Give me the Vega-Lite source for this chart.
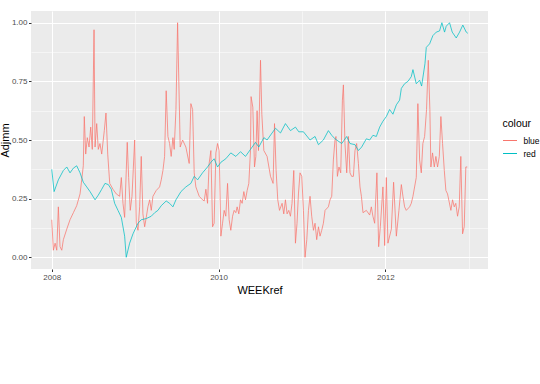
{
  "$schema": "https://vega.github.io/schema/vega-lite/v6.json",
  "autosize": {"type": "none"},
  "padding": {"left": 31, "top": 11, "right": 52, "bottom": 115},
  "width": 457,
  "height": 258,
  "background": "#FFFFFF",
  "config": {
    "view": {"fill": "#EBEBEB", "stroke": null},
    "font": "Liberation Sans",
    "axis": {
      "domain": false,
      "grid": true,
      "gridColor": "#FFFFFF",
      "tickColor": "#333333",
      "tickSize": 2.5,
      "labelColor": "#4D4D4D",
      "labelFontSize": 8,
      "labelOverlap": false,
      "labelFlush": false,
      "labelBound": false,
      "titleColor": "#000000",
      "titleFontSize": 11,
      "titleFontWeight": "normal"
    }
  },
  "data": {
    "values": [
      {"WEEKref":2008.000,"Adjmm":0.16,"colour":"blue"},
      {"WEEKref":2008.019,"Adjmm":0.03,"colour":"blue"},
      {"WEEKref":2008.040,"Adjmm":0.06,"colour":"blue"},
      {"WEEKref":2008.060,"Adjmm":0.03,"colour":"blue"},
      {"WEEKref":2008.079,"Adjmm":0.215,"colour":"blue"},
      {"WEEKref":2008.099,"Adjmm":0.045,"colour":"blue"},
      {"WEEKref":2008.120,"Adjmm":0.03,"colour":"blue"},
      {"WEEKref":2008.139,"Adjmm":0.075,"colour":"blue"},
      {"WEEKref":2008.180,"Adjmm":0.12,"colour":"blue"},
      {"WEEKref":2008.219,"Adjmm":0.16,"colour":"blue"},
      {"WEEKref":2008.259,"Adjmm":0.19,"colour":"blue"},
      {"WEEKref":2008.299,"Adjmm":0.22,"colour":"blue"},
      {"WEEKref":2008.339,"Adjmm":0.27,"colour":"blue"},
      {"WEEKref":2008.359,"Adjmm":0.33,"colour":"blue"},
      {"WEEKref":2008.378,"Adjmm":0.39,"colour":"blue"},
      {"WEEKref":2008.390,"Adjmm":0.60,"colour":"blue"},
      {"WEEKref":2008.407,"Adjmm":0.44,"colour":"blue"},
      {"WEEKref":2008.426,"Adjmm":0.51,"colour":"blue"},
      {"WEEKref":2008.447,"Adjmm":0.47,"colour":"blue"},
      {"WEEKref":2008.467,"Adjmm":0.555,"colour":"blue"},
      {"WEEKref":2008.486,"Adjmm":0.46,"colour":"blue"},
      {"WEEKref":2008.507,"Adjmm":0.97,"colour":"blue"},
      {"WEEKref":2008.519,"Adjmm":0.47,"colour":"blue"},
      {"WEEKref":2008.539,"Adjmm":0.57,"colour":"blue"},
      {"WEEKref":2008.558,"Adjmm":0.46,"colour":"blue"},
      {"WEEKref":2008.578,"Adjmm":0.485,"colour":"blue"},
      {"WEEKref":2008.599,"Adjmm":0.44,"colour":"blue"},
      {"WEEKref":2008.630,"Adjmm":0.54,"colour":"blue"},
      {"WEEKref":2008.650,"Adjmm":0.615,"colour":"blue"},
      {"WEEKref":2008.671,"Adjmm":0.44,"colour":"blue"},
      {"WEEKref":2008.695,"Adjmm":0.315,"colour":"blue"},
      {"WEEKref":2008.734,"Adjmm":0.29,"colour":"blue"},
      {"WEEKref":2008.774,"Adjmm":0.27,"colour":"blue"},
      {"WEEKref":2008.814,"Adjmm":0.26,"colour":"blue"},
      {"WEEKref":2008.834,"Adjmm":0.34,"colour":"blue"},
      {"WEEKref":2008.854,"Adjmm":0.23,"colour":"blue"},
      {"WEEKref":2008.874,"Adjmm":0.17,"colour":"blue"},
      {"WEEKref":2008.905,"Adjmm":0.49,"colour":"blue"},
      {"WEEKref":2008.922,"Adjmm":0.34,"colour":"blue"},
      {"WEEKref":2008.941,"Adjmm":0.20,"colour":"blue"},
      {"WEEKref":2008.962,"Adjmm":0.26,"colour":"blue"},
      {"WEEKref":2008.994,"Adjmm":0.50,"colour":"blue"},
      {"WEEKref":2009.013,"Adjmm":0.145,"colour":"blue"},
      {"WEEKref":2009.034,"Adjmm":0.115,"colour":"blue"},
      {"WEEKref":2009.054,"Adjmm":0.215,"colour":"blue"},
      {"WEEKref":2009.073,"Adjmm":0.43,"colour":"blue"},
      {"WEEKref":2009.093,"Adjmm":0.185,"colour":"blue"},
      {"WEEKref":2009.114,"Adjmm":0.13,"colour":"blue"},
      {"WEEKref":2009.133,"Adjmm":0.17,"colour":"blue"},
      {"WEEKref":2009.153,"Adjmm":0.215,"colour":"blue"},
      {"WEEKref":2009.174,"Adjmm":0.245,"colour":"blue"},
      {"WEEKref":2009.193,"Adjmm":0.20,"colour":"blue"},
      {"WEEKref":2009.213,"Adjmm":0.26,"colour":"blue"},
      {"WEEKref":2009.253,"Adjmm":0.285,"colour":"blue"},
      {"WEEKref":2009.293,"Adjmm":0.30,"colour":"blue"},
      {"WEEKref":2009.313,"Adjmm":0.33,"colour":"blue"},
      {"WEEKref":2009.333,"Adjmm":0.37,"colour":"blue"},
      {"WEEKref":2009.353,"Adjmm":0.43,"colour":"blue"},
      {"WEEKref":2009.372,"Adjmm":0.71,"colour":"blue"},
      {"WEEKref":2009.393,"Adjmm":0.515,"colour":"blue"},
      {"WEEKref":2009.413,"Adjmm":0.485,"colour":"blue"},
      {"WEEKref":2009.432,"Adjmm":0.43,"colour":"blue"},
      {"WEEKref":2009.453,"Adjmm":0.51,"colour":"blue"},
      {"WEEKref":2009.468,"Adjmm":0.46,"colour":"blue"},
      {"WEEKref":2009.489,"Adjmm":0.63,"colour":"blue"},
      {"WEEKref":2009.509,"Adjmm":1.0,"colour":"blue"},
      {"WEEKref":2009.516,"Adjmm":0.88,"colour":"blue"},
      {"WEEKref":2009.540,"Adjmm":0.47,"colour":"blue"},
      {"WEEKref":2009.569,"Adjmm":0.50,"colour":"blue"},
      {"WEEKref":2009.608,"Adjmm":0.47,"colour":"blue"},
      {"WEEKref":2009.648,"Adjmm":0.40,"colour":"blue"},
      {"WEEKref":2009.668,"Adjmm":0.655,"colour":"blue"},
      {"WEEKref":2009.689,"Adjmm":0.63,"colour":"blue"},
      {"WEEKref":2009.708,"Adjmm":0.36,"colour":"blue"},
      {"WEEKref":2009.728,"Adjmm":0.30,"colour":"blue"},
      {"WEEKref":2009.768,"Adjmm":0.26,"colour":"blue"},
      {"WEEKref":2009.808,"Adjmm":0.245,"colour":"blue"},
      {"WEEKref":2009.828,"Adjmm":0.24,"colour":"blue"},
      {"WEEKref":2009.848,"Adjmm":0.29,"colour":"blue"},
      {"WEEKref":2009.868,"Adjmm":0.23,"colour":"blue"},
      {"WEEKref":2009.887,"Adjmm":0.40,"colour":"blue"},
      {"WEEKref":2009.908,"Adjmm":0.455,"colour":"blue"},
      {"WEEKref":2009.928,"Adjmm":0.13,"colour":"blue"},
      {"WEEKref":2009.947,"Adjmm":0.145,"colour":"blue"},
      {"WEEKref":2009.968,"Adjmm":0.445,"colour":"blue"},
      {"WEEKref":2009.988,"Adjmm":0.485,"colour":"blue"},
      {"WEEKref":2010.007,"Adjmm":0.455,"colour":"blue"},
      {"WEEKref":2010.028,"Adjmm":0.09,"colour":"blue"},
      {"WEEKref":2010.048,"Adjmm":0.145,"colour":"blue"},
      {"WEEKref":2010.067,"Adjmm":0.20,"colour":"blue"},
      {"WEEKref":2010.087,"Adjmm":0.175,"colour":"blue"},
      {"WEEKref":2010.108,"Adjmm":0.315,"colour":"blue"},
      {"WEEKref":2010.127,"Adjmm":0.16,"colour":"blue"},
      {"WEEKref":2010.147,"Adjmm":0.115,"colour":"blue"},
      {"WEEKref":2010.168,"Adjmm":0.175,"colour":"blue"},
      {"WEEKref":2010.187,"Adjmm":0.20,"colour":"blue"},
      {"WEEKref":2010.207,"Adjmm":0.19,"colour":"blue"},
      {"WEEKref":2010.223,"Adjmm":0.215,"colour":"blue"},
      {"WEEKref":2010.243,"Adjmm":0.185,"colour":"blue"},
      {"WEEKref":2010.263,"Adjmm":0.245,"colour":"blue"},
      {"WEEKref":2010.283,"Adjmm":0.23,"colour":"blue"},
      {"WEEKref":2010.303,"Adjmm":0.28,"colour":"blue"},
      {"WEEKref":2010.323,"Adjmm":0.245,"colour":"blue"},
      {"WEEKref":2010.343,"Adjmm":0.285,"colour":"blue"},
      {"WEEKref":2010.363,"Adjmm":0.315,"colour":"blue"},
      {"WEEKref":2010.383,"Adjmm":0.455,"colour":"blue"},
      {"WEEKref":2010.390,"Adjmm":0.685,"colour":"blue"},
      {"WEEKref":2010.411,"Adjmm":0.64,"colour":"blue"},
      {"WEEKref":2010.431,"Adjmm":0.385,"colour":"blue"},
      {"WEEKref":2010.447,"Adjmm":0.43,"colour":"blue"},
      {"WEEKref":2010.462,"Adjmm":0.625,"colour":"blue"},
      {"WEEKref":2010.479,"Adjmm":0.455,"colour":"blue"},
      {"WEEKref":2010.503,"Adjmm":0.84,"colour":"blue"},
      {"WEEKref":2010.519,"Adjmm":0.61,"colour":"blue"},
      {"WEEKref":2010.543,"Adjmm":0.455,"colour":"blue"},
      {"WEEKref":2010.582,"Adjmm":0.43,"colour":"blue"},
      {"WEEKref":2010.623,"Adjmm":0.345,"colour":"blue"},
      {"WEEKref":2010.654,"Adjmm":0.315,"colour":"blue"},
      {"WEEKref":2010.671,"Adjmm":0.57,"colour":"blue"},
      {"WEEKref":2010.690,"Adjmm":0.37,"colour":"blue"},
      {"WEEKref":2010.710,"Adjmm":0.245,"colour":"blue"},
      {"WEEKref":2010.731,"Adjmm":0.20,"colour":"blue"},
      {"WEEKref":2010.762,"Adjmm":0.23,"colour":"blue"},
      {"WEEKref":2010.782,"Adjmm":0.185,"colour":"blue"},
      {"WEEKref":2010.802,"Adjmm":0.245,"colour":"blue"},
      {"WEEKref":2010.822,"Adjmm":0.185,"colour":"blue"},
      {"WEEKref":2010.842,"Adjmm":0.20,"colour":"blue"},
      {"WEEKref":2010.862,"Adjmm":0.175,"colour":"blue"},
      {"WEEKref":2010.881,"Adjmm":0.23,"colour":"blue"},
      {"WEEKref":2010.902,"Adjmm":0.37,"colour":"blue"},
      {"WEEKref":2010.922,"Adjmm":0.06,"colour":"blue"},
      {"WEEKref":2010.941,"Adjmm":0.145,"colour":"blue"},
      {"WEEKref":2010.958,"Adjmm":0.27,"colour":"blue"},
      {"WEEKref":2010.977,"Adjmm":0.36,"colour":"blue"},
      {"WEEKref":2010.998,"Adjmm":0.345,"colour":"blue"},
      {"WEEKref":2011.018,"Adjmm":0.20,"colour":"blue"},
      {"WEEKref":2011.037,"Adjmm":0.0,"colour":"blue"},
      {"WEEKref":2011.058,"Adjmm":0.075,"colour":"blue"},
      {"WEEKref":2011.078,"Adjmm":0.20,"colour":"blue"},
      {"WEEKref":2011.097,"Adjmm":0.26,"colour":"blue"},
      {"WEEKref":2011.117,"Adjmm":0.175,"colour":"blue"},
      {"WEEKref":2011.138,"Adjmm":0.115,"colour":"blue"},
      {"WEEKref":2011.157,"Adjmm":0.145,"colour":"blue"},
      {"WEEKref":2011.177,"Adjmm":0.075,"colour":"blue"},
      {"WEEKref":2011.198,"Adjmm":0.13,"colour":"blue"},
      {"WEEKref":2011.217,"Adjmm":0.09,"colour":"blue"},
      {"WEEKref":2011.237,"Adjmm":0.115,"colour":"blue"},
      {"WEEKref":2011.257,"Adjmm":0.145,"colour":"blue"},
      {"WEEKref":2011.277,"Adjmm":0.20,"colour":"blue"},
      {"WEEKref":2011.317,"Adjmm":0.215,"colour":"blue"},
      {"WEEKref":2011.337,"Adjmm":0.245,"colour":"blue"},
      {"WEEKref":2011.357,"Adjmm":0.26,"colour":"blue"},
      {"WEEKref":2011.377,"Adjmm":0.415,"colour":"blue"},
      {"WEEKref":2011.396,"Adjmm":0.50,"colour":"blue"},
      {"WEEKref":2011.408,"Adjmm":0.515,"colour":"blue"},
      {"WEEKref":2011.425,"Adjmm":0.345,"colour":"blue"},
      {"WEEKref":2011.444,"Adjmm":0.385,"colour":"blue"},
      {"WEEKref":2011.465,"Adjmm":0.36,"colour":"blue"},
      {"WEEKref":2011.485,"Adjmm":0.67,"colour":"blue"},
      {"WEEKref":2011.497,"Adjmm":0.735,"colour":"blue"},
      {"WEEKref":2011.516,"Adjmm":0.485,"colour":"blue"},
      {"WEEKref":2011.537,"Adjmm":0.36,"colour":"blue"},
      {"WEEKref":2011.557,"Adjmm":0.515,"colour":"blue"},
      {"WEEKref":2011.576,"Adjmm":0.36,"colour":"blue"},
      {"WEEKref":2011.596,"Adjmm":0.345,"colour":"blue"},
      {"WEEKref":2011.617,"Adjmm":0.345,"colour":"blue"},
      {"WEEKref":2011.636,"Adjmm":0.455,"colour":"blue"},
      {"WEEKref":2011.656,"Adjmm":0.485,"colour":"blue"},
      {"WEEKref":2011.677,"Adjmm":0.40,"colour":"blue"},
      {"WEEKref":2011.696,"Adjmm":0.30,"colour":"blue"},
      {"WEEKref":2011.713,"Adjmm":0.26,"colour":"blue"},
      {"WEEKref":2011.732,"Adjmm":0.19,"colour":"blue"},
      {"WEEKref":2011.772,"Adjmm":0.20,"colour":"blue"},
      {"WEEKref":2011.812,"Adjmm":0.18,"colour":"blue"},
      {"WEEKref":2011.832,"Adjmm":0.215,"colour":"blue"},
      {"WEEKref":2011.851,"Adjmm":0.175,"colour":"blue"},
      {"WEEKref":2011.872,"Adjmm":0.145,"colour":"blue"},
      {"WEEKref":2011.899,"Adjmm":0.36,"colour":"blue"},
      {"WEEKref":2011.920,"Adjmm":0.045,"colour":"blue"},
      {"WEEKref":2011.940,"Adjmm":0.13,"colour":"blue"},
      {"WEEKref":2011.971,"Adjmm":0.30,"colour":"blue"},
      {"WEEKref":2011.992,"Adjmm":0.05,"colour":"blue"},
      {"WEEKref":2012.012,"Adjmm":0.34,"colour":"blue"},
      {"WEEKref":2012.031,"Adjmm":0.06,"colour":"blue"},
      {"WEEKref":2012.072,"Adjmm":0.12,"colour":"blue"},
      {"WEEKref":2012.099,"Adjmm":0.32,"colour":"blue"},
      {"WEEKref":2012.132,"Adjmm":0.09,"colour":"blue"},
      {"WEEKref":2012.163,"Adjmm":0.20,"colour":"blue"},
      {"WEEKref":2012.192,"Adjmm":0.31,"colour":"blue"},
      {"WEEKref":2012.211,"Adjmm":0.26,"colour":"blue"},
      {"WEEKref":2012.231,"Adjmm":0.215,"colour":"blue"},
      {"WEEKref":2012.251,"Adjmm":0.20,"colour":"blue"},
      {"WEEKref":2012.291,"Adjmm":0.215,"colour":"blue"},
      {"WEEKref":2012.311,"Adjmm":0.23,"colour":"blue"},
      {"WEEKref":2012.331,"Adjmm":0.26,"colour":"blue"},
      {"WEEKref":2012.371,"Adjmm":0.34,"colour":"blue"},
      {"WEEKref":2012.390,"Adjmm":0.655,"colour":"blue"},
      {"WEEKref":2012.411,"Adjmm":0.415,"colour":"blue"},
      {"WEEKref":2012.431,"Adjmm":0.36,"colour":"blue"},
      {"WEEKref":2012.450,"Adjmm":0.485,"colour":"blue"},
      {"WEEKref":2012.471,"Adjmm":0.515,"colour":"blue"},
      {"WEEKref":2012.494,"Adjmm":0.63,"colour":"blue"},
      {"WEEKref":2012.515,"Adjmm":0.84,"colour":"blue"},
      {"WEEKref":2012.534,"Adjmm":0.63,"colour":"blue"},
      {"WEEKref":2012.546,"Adjmm":0.385,"colour":"blue"},
      {"WEEKref":2012.566,"Adjmm":0.445,"colour":"blue"},
      {"WEEKref":2012.587,"Adjmm":0.385,"colour":"blue"},
      {"WEEKref":2012.606,"Adjmm":0.43,"colour":"blue"},
      {"WEEKref":2012.626,"Adjmm":0.385,"colour":"blue"},
      {"WEEKref":2012.647,"Adjmm":0.43,"colour":"blue"},
      {"WEEKref":2012.666,"Adjmm":0.60,"colour":"blue"},
      {"WEEKref":2012.686,"Adjmm":0.485,"colour":"blue"},
      {"WEEKref":2012.707,"Adjmm":0.37,"colour":"blue"},
      {"WEEKref":2012.726,"Adjmm":0.285,"colour":"blue"},
      {"WEEKref":2012.746,"Adjmm":0.27,"colour":"blue"},
      {"WEEKref":2012.786,"Adjmm":0.20,"colour":"blue"},
      {"WEEKref":2012.806,"Adjmm":0.245,"colour":"blue"},
      {"WEEKref":2012.826,"Adjmm":0.215,"colour":"blue"},
      {"WEEKref":2012.845,"Adjmm":0.23,"colour":"blue"},
      {"WEEKref":2012.866,"Adjmm":0.175,"colour":"blue"},
      {"WEEKref":2012.886,"Adjmm":0.215,"colour":"blue"},
      {"WEEKref":2012.905,"Adjmm":0.43,"colour":"blue"},
      {"WEEKref":2012.926,"Adjmm":0.10,"colour":"blue"},
      {"WEEKref":2012.946,"Adjmm":0.13,"colour":"blue"},
      {"WEEKref":2012.965,"Adjmm":0.385,"colour":"blue"},
      {"WEEKref":2012.982,"Adjmm":0.385,"colour":"blue"},
      {"WEEKref":2008.000,"Adjmm":0.375,"colour":"red"},
      {"WEEKref":2008.028,"Adjmm":0.28,"colour":"red"},
      {"WEEKref":2008.079,"Adjmm":0.33,"colour":"red"},
      {"WEEKref":2008.139,"Adjmm":0.37,"colour":"red"},
      {"WEEKref":2008.180,"Adjmm":0.385,"colour":"red"},
      {"WEEKref":2008.219,"Adjmm":0.36,"colour":"red"},
      {"WEEKref":2008.259,"Adjmm":0.38,"colour":"red"},
      {"WEEKref":2008.299,"Adjmm":0.39,"colour":"red"},
      {"WEEKref":2008.339,"Adjmm":0.36,"colour":"red"},
      {"WEEKref":2008.378,"Adjmm":0.32,"colour":"red"},
      {"WEEKref":2008.419,"Adjmm":0.30,"colour":"red"},
      {"WEEKref":2008.459,"Adjmm":0.28,"colour":"red"},
      {"WEEKref":2008.519,"Adjmm":0.245,"colour":"red"},
      {"WEEKref":2008.558,"Adjmm":0.265,"colour":"red"},
      {"WEEKref":2008.599,"Adjmm":0.29,"colour":"red"},
      {"WEEKref":2008.638,"Adjmm":0.315,"colour":"red"},
      {"WEEKref":2008.678,"Adjmm":0.31,"colour":"red"},
      {"WEEKref":2008.714,"Adjmm":0.29,"colour":"red"},
      {"WEEKref":2008.754,"Adjmm":0.23,"colour":"red"},
      {"WEEKref":2008.794,"Adjmm":0.20,"colour":"red"},
      {"WEEKref":2008.834,"Adjmm":0.17,"colour":"red"},
      {"WEEKref":2008.874,"Adjmm":0.09,"colour":"red"},
      {"WEEKref":2008.893,"Adjmm":0.0,"colour":"red"},
      {"WEEKref":2008.934,"Adjmm":0.06,"colour":"red"},
      {"WEEKref":2008.974,"Adjmm":0.10,"colour":"red"},
      {"WEEKref":2009.034,"Adjmm":0.145,"colour":"red"},
      {"WEEKref":2009.073,"Adjmm":0.16,"colour":"red"},
      {"WEEKref":2009.133,"Adjmm":0.165,"colour":"red"},
      {"WEEKref":2009.193,"Adjmm":0.175,"colour":"red"},
      {"WEEKref":2009.234,"Adjmm":0.19,"colour":"red"},
      {"WEEKref":2009.273,"Adjmm":0.20,"colour":"red"},
      {"WEEKref":2009.313,"Adjmm":0.22,"colour":"red"},
      {"WEEKref":2009.372,"Adjmm":0.24,"colour":"red"},
      {"WEEKref":2009.413,"Adjmm":0.23,"colour":"red"},
      {"WEEKref":2009.453,"Adjmm":0.215,"colour":"red"},
      {"WEEKref":2009.489,"Adjmm":0.245,"colour":"red"},
      {"WEEKref":2009.549,"Adjmm":0.28,"colour":"red"},
      {"WEEKref":2009.608,"Adjmm":0.30,"colour":"red"},
      {"WEEKref":2009.668,"Adjmm":0.315,"colour":"red"},
      {"WEEKref":2009.708,"Adjmm":0.345,"colour":"red"},
      {"WEEKref":2009.749,"Adjmm":0.33,"colour":"red"},
      {"WEEKref":2009.808,"Adjmm":0.36,"colour":"red"},
      {"WEEKref":2009.868,"Adjmm":0.385,"colour":"red"},
      {"WEEKref":2009.908,"Adjmm":0.405,"colour":"red"},
      {"WEEKref":2009.947,"Adjmm":0.42,"colour":"red"},
      {"WEEKref":2009.988,"Adjmm":0.385,"colour":"red"},
      {"WEEKref":2010.028,"Adjmm":0.405,"colour":"red"},
      {"WEEKref":2010.087,"Adjmm":0.42,"colour":"red"},
      {"WEEKref":2010.147,"Adjmm":0.445,"colour":"red"},
      {"WEEKref":2010.207,"Adjmm":0.43,"colour":"red"},
      {"WEEKref":2010.263,"Adjmm":0.45,"colour":"red"},
      {"WEEKref":2010.323,"Adjmm":0.43,"colour":"red"},
      {"WEEKref":2010.383,"Adjmm":0.46,"colour":"red"},
      {"WEEKref":2010.443,"Adjmm":0.49,"colour":"red"},
      {"WEEKref":2010.483,"Adjmm":0.47,"colour":"red"},
      {"WEEKref":2010.543,"Adjmm":0.51,"colour":"red"},
      {"WEEKref":2010.582,"Adjmm":0.50,"colour":"red"},
      {"WEEKref":2010.642,"Adjmm":0.53,"colour":"red"},
      {"WEEKref":2010.683,"Adjmm":0.55,"colour":"red"},
      {"WEEKref":2010.743,"Adjmm":0.53,"colour":"red"},
      {"WEEKref":2010.802,"Adjmm":0.57,"colour":"red"},
      {"WEEKref":2010.862,"Adjmm":0.54,"colour":"red"},
      {"WEEKref":2010.922,"Adjmm":0.555,"colour":"red"},
      {"WEEKref":2010.962,"Adjmm":0.535,"colour":"red"},
      {"WEEKref":2011.018,"Adjmm":0.535,"colour":"red"},
      {"WEEKref":2011.097,"Adjmm":0.50,"colour":"red"},
      {"WEEKref":2011.157,"Adjmm":0.515,"colour":"red"},
      {"WEEKref":2011.198,"Adjmm":0.48,"colour":"red"},
      {"WEEKref":2011.257,"Adjmm":0.50,"colour":"red"},
      {"WEEKref":2011.317,"Adjmm":0.54,"colour":"red"},
      {"WEEKref":2011.357,"Adjmm":0.52,"colour":"red"},
      {"WEEKref":2011.396,"Adjmm":0.505,"colour":"red"},
      {"WEEKref":2011.477,"Adjmm":0.485,"colour":"red"},
      {"WEEKref":2011.537,"Adjmm":0.515,"colour":"red"},
      {"WEEKref":2011.576,"Adjmm":0.485,"colour":"red"},
      {"WEEKref":2011.636,"Adjmm":0.48,"colour":"red"},
      {"WEEKref":2011.677,"Adjmm":0.455,"colour":"red"},
      {"WEEKref":2011.716,"Adjmm":0.47,"colour":"red"},
      {"WEEKref":2011.772,"Adjmm":0.505,"colour":"red"},
      {"WEEKref":2011.812,"Adjmm":0.50,"colour":"red"},
      {"WEEKref":2011.851,"Adjmm":0.52,"colour":"red"},
      {"WEEKref":2011.892,"Adjmm":0.515,"colour":"red"},
      {"WEEKref":2011.932,"Adjmm":0.555,"colour":"red"},
      {"WEEKref":2011.971,"Adjmm":0.58,"colour":"red"},
      {"WEEKref":2012.012,"Adjmm":0.60,"colour":"red"},
      {"WEEKref":2012.051,"Adjmm":0.63,"colour":"red"},
      {"WEEKref":2012.091,"Adjmm":0.61,"colour":"red"},
      {"WEEKref":2012.132,"Adjmm":0.65,"colour":"red"},
      {"WEEKref":2012.171,"Adjmm":0.67,"colour":"red"},
      {"WEEKref":2012.192,"Adjmm":0.72,"colour":"red"},
      {"WEEKref":2012.231,"Adjmm":0.74,"colour":"red"},
      {"WEEKref":2012.271,"Adjmm":0.75,"colour":"red"},
      {"WEEKref":2012.311,"Adjmm":0.77,"colour":"red"},
      {"WEEKref":2012.331,"Adjmm":0.80,"colour":"red"},
      {"WEEKref":2012.371,"Adjmm":0.74,"colour":"red"},
      {"WEEKref":2012.411,"Adjmm":0.755,"colour":"red"},
      {"WEEKref":2012.435,"Adjmm":0.73,"colour":"red"},
      {"WEEKref":2012.475,"Adjmm":0.825,"colour":"red"},
      {"WEEKref":2012.491,"Adjmm":0.895,"colour":"red"},
      {"WEEKref":2012.531,"Adjmm":0.91,"colour":"red"},
      {"WEEKref":2012.570,"Adjmm":0.945,"colour":"red"},
      {"WEEKref":2012.611,"Adjmm":0.96,"colour":"red"},
      {"WEEKref":2012.650,"Adjmm":0.965,"colour":"red"},
      {"WEEKref":2012.678,"Adjmm":1.0,"colour":"red"},
      {"WEEKref":2012.710,"Adjmm":0.96,"colour":"red"},
      {"WEEKref":2012.730,"Adjmm":0.985,"colour":"red"},
      {"WEEKref":2012.770,"Adjmm":1.0,"colour":"red"},
      {"WEEKref":2012.802,"Adjmm":0.96,"colour":"red"},
      {"WEEKref":2012.850,"Adjmm":0.935,"colour":"red"},
      {"WEEKref":2012.890,"Adjmm":0.96,"colour":"red"},
      {"WEEKref":2012.929,"Adjmm":0.99,"colour":"red"},
      {"WEEKref":2012.970,"Adjmm":0.96,"colour":"red"},
      {"WEEKref":2012.989,"Adjmm":0.955,"colour":"red"}
    ]
  },
  "mark": {"type": "line", "strokeWidth": 0.75, "interpolate": "linear"},
  "encoding": {
    "x": {
      "field": "WEEKref",
      "type": "quantitative",
      "title": "WEEKref",
      "scale": {"domain": [2007.751, 2013.231], "nice": false, "zero": false},
      "axis": {
        "values": [2008, 2009, 2010, 2011, 2012, 2013],
        "format": "d",
        "labelExpr": "datum.value % 2 === 0 ? datum.label : ''",
        "gridWidth": {"condition": {"test": "datum.value % 2 === 0", "value": 1}, "value": 0.5},
        "tickOpacity": {"condition": {"test": "datum.value % 2 === 0", "value": 1}, "value": 0},
        "labelPadding": 2,
        "titlePadding": 3
      }
    },
    "y": {
      "field": "Adjmm",
      "type": "quantitative",
      "title": "Adjmm",
      "scale": {"domain": [-0.05, 1.05], "nice": false, "zero": false},
      "axis": {
        "values": [0, 0.125, 0.25, 0.375, 0.5, 0.625, 0.75, 0.875, 1],
        "format": ".2f",
        "labelExpr": "round(datum.value * 8) % 2 === 0 ? datum.label : ''",
        "gridWidth": {"condition": {"test": "round(datum.value * 8) % 2 === 0", "value": 1}, "value": 0.5},
        "tickOpacity": {"condition": {"test": "round(datum.value * 8) % 2 === 0", "value": 1}, "value": 0},
        "labelPadding": 1.5,
        "titlePadding": 1
      }
    },
    "color": {
      "field": "colour",
      "type": "nominal",
      "title": "colour",
      "scale": {"domain": ["blue", "red"], "range": ["#F8766D", "#00BFC4"]},
      "legend": {
        "orient": "none",
        "legendX": 471.5,
        "legendY": 107.5,
        "padding": 0,
        "symbolType": "stroke",
        "symbolSize": 196,
        "symbolStrokeWidth": 1,
        "labelFontSize": 8.5,
        "labelColor": "#000000",
        "labelOffset": 6,
        "titleFontSize": 10.5,
        "titleFontWeight": "normal",
        "titleColor": "#000000",
        "titlePadding": 4,
        "rowPadding": 1
      }
    }
  }
}
